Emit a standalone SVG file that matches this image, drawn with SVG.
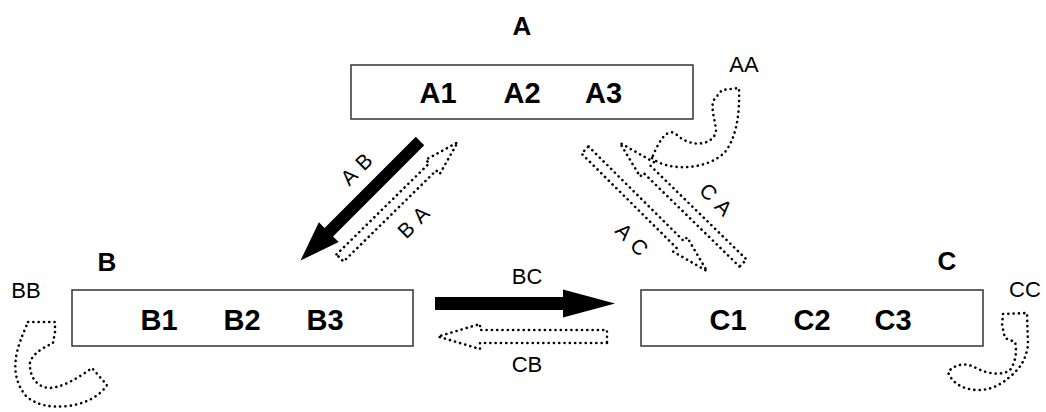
<svg xmlns="http://www.w3.org/2000/svg" width="1046" height="412" viewBox="0 0 1046 412">
<style>
.box{fill:#fff;stroke:#333;stroke-width:1.5}
.title{font-family:"Liberation Sans",Arial,sans-serif;font-weight:bold;font-size:26px;fill:#000;text-anchor:middle}
.item{font-family:"Liberation Sans",Arial,sans-serif;font-weight:bold;font-size:29px;fill:#000;text-anchor:middle}
.lbl{font-family:"Liberation Sans",Arial,sans-serif;font-size:22px;fill:#000;text-anchor:middle}
.rl{font-family:"Liberation Sans",Arial,sans-serif;font-size:21px;fill:#000;text-anchor:middle;letter-spacing:7px}
.solid{fill:#000;stroke:none}
.dot{fill:none;stroke:#000;stroke-width:2.6;stroke-dasharray:0.1 5.2;stroke-linecap:round;stroke-linejoin:round}
</style>
<rect width="1046" height="412" fill="#fff"/>
<g id="nodeA">
<text class="title" x="522" y="35">A</text>
<rect class="box" x="351" y="65" width="342" height="54"/>
<text class="item" x="438" y="103">A1</text>
<text class="item" x="522" y="103">A2</text>
<text class="item" x="603.5" y="103">A3</text>
</g>
<g id="nodeB">
<text class="title" x="107" y="271">B</text>
<rect class="box" x="72" y="290" width="341" height="56"/>
<text class="item" x="159" y="330">B1</text>
<text class="item" x="242" y="330">B2</text>
<text class="item" x="325" y="330">B3</text>
</g>
<g id="nodeC">
<text class="title" x="947" y="270">C</text>
<rect class="box" x="641" y="290" width="342" height="56"/>
<text class="item" x="728" y="330">C1</text>
<text class="item" x="812" y="330">C2</text>
<text class="item" x="893" y="330">C3</text>
</g>
<g id="connectors">
<!-- AB solid -->
<path class="solid" transform="translate(420,141) rotate(135)" d="M0,-6 L129,-6 L129,-14 L169,0 L129,14 L129,6 L0,6 Z"/>
<g transform="translate(357,169) rotate(-45)"><text class="rl" x="3" y="7">AB</text></g>
<!-- BA dotted -->
<path class="dot" transform="translate(340,258) rotate(-44.5)" d="M0,-5 L130,-5 L130,-10 L165,0 L130,10 L130,5 L0,5 Z"/>
<g transform="translate(414,222) rotate(-45)"><text class="rl" x="3" y="7">BA</text></g>
<!-- AC dotted -->
<path class="dot" transform="translate(585,150) rotate(44.8)" d="M0,-5 L134,-5 L134,-10 L172,0 L134,10 L134,5 L0,5 Z"/>
<g transform="translate(632,240) rotate(45)"><text class="rl" x="3" y="7">AC</text></g>
<!-- CA dotted -->
<path class="dot" transform="translate(743,263) rotate(-135.7)" d="M0,-5 L134,-5 L134,-10 L172,0 L134,10 L134,5 L0,5 Z"/>
<g transform="translate(716,200) rotate(45)"><text class="rl" x="3" y="7">CA</text></g>
<!-- BC solid -->
<path class="solid" transform="translate(435,303.5)" d="M0,-6.5 L128,-6.5 L128,-14 L180,0 L128,14 L128,6.5 L0,6.5 Z"/>
<text class="lbl" x="527" y="284">BC</text>
<!-- CB dotted -->
<path class="dot" transform="translate(607,336.5) rotate(180)" d="M0,-6.5 L127,-6.5 L127,-12.5 L169,0 L127,12.5 L127,6.5 L0,6.5 Z"/>
<text class="lbl" x="527" y="372">CB</text>
<!-- AA loop -->
<path class="dot" d="M652,158 C668,172 708,170 725,152 C736,138 740,115 739,88 L722,90 L713,101 C711,112 716,122 716,132 C712,146 690,148 676,134 C668,128 660,138 652,158 Z"/>
<text class="lbl" x="744" y="72">AA</text>
<!-- BB loop -->
<path class="dot" d="M28,322 L55,322 L55,332 L53,343 C45,347 34,352 30,362 C29,376 36,386 48,388 C62,388 78,378 92,368 L107,385 C100,396 85,404 68,406 C50,408 36,405 26,396 C16,384 14,370 16,358 C17,348 22,336 28,322 Z"/>
<text class="lbl" x="26" y="298">BB</text>
<!-- CC loop -->
<path class="dot" d="M1003,314 L1027,313 L1028,345 C1026,358 1022,366 1012,375 C1002,384 992,390 978,390 C965,390 952,384 948,372 C955,364 966,362 976,368 C988,374 1002,376 1010,370 C1016,362 1017,350 1015,342 L1005,338 L1002,325 Z"/>
<text class="lbl" x="1025" y="297">CC</text>
</g>
</svg>
